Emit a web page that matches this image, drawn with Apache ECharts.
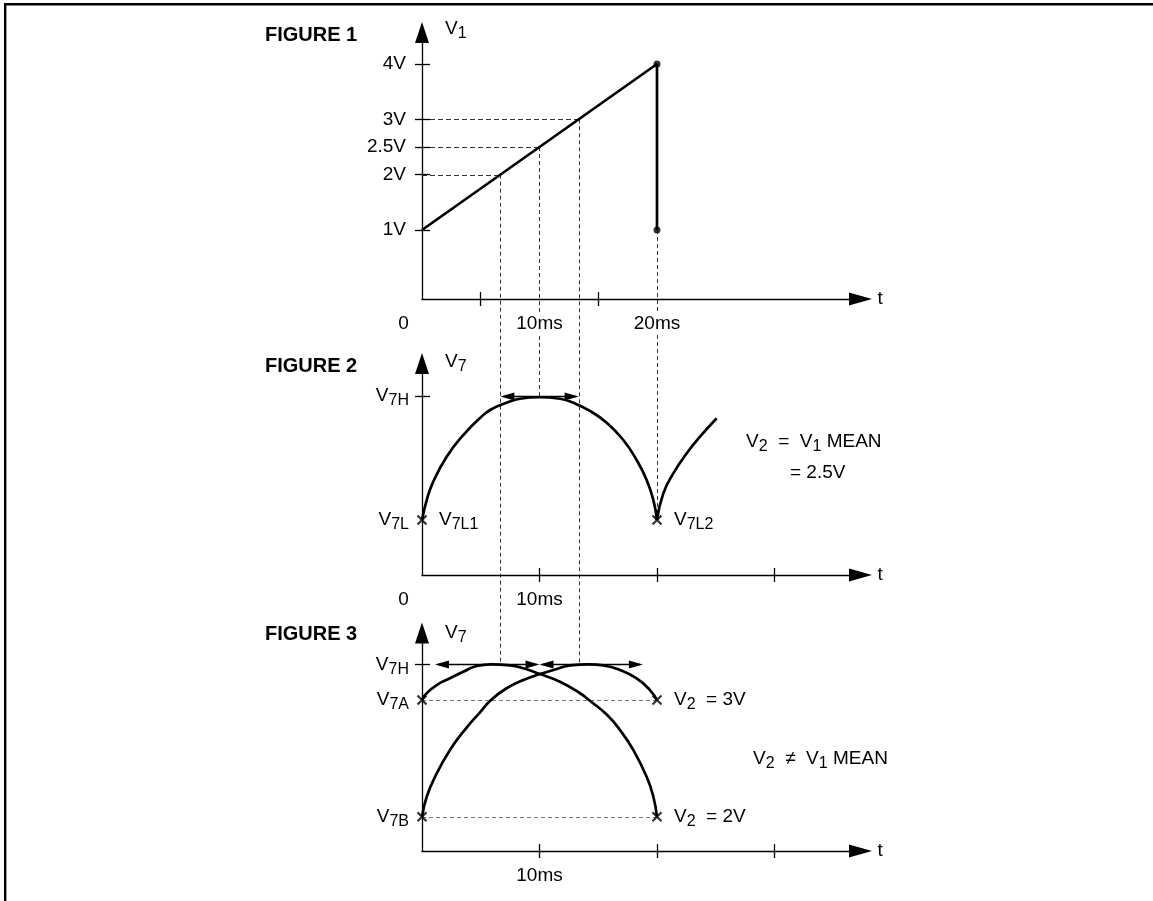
<!DOCTYPE html>
<html>
<head>
<meta charset="utf-8">
<title>V1 / V7 timing</title>
<script src="https://cdn.jsdelivr.net/npm/echarts@6/dist/echarts.min.js"></script>
<style>
  html, body { margin: 0; padding: 0; background: #fff; }
  #chart { width: 1153px; height: 901px; }
</style>
</head>
<body>
<div id="chart"></div>
<script>
// ---- time axis (ms), shared by the three figures ----
const tickTimesFig1 = [5, 15];
const labelTimesFig1 = [0, 10, 20];
const tickTimesFig23 = [10, 20, 30];
const labelTimesFig2 = [0, 10];
const labelTimesFig3 = [10];

// ---- FIGURE 1: V1 ramp (volts) ----
const v1Levels = [1, 2, 2.5, 3, 4];
const v1LevelLabels = ['1V', '2V', '2.5V', '3V', '4V'];
const v1Ramp = [[0, 1], [20, 4], [20, 1]];
const v1Dots = [[20, 4], [20, 1]];
const v1Traced = [2, 2.5, 3];             // levels followed by dashed guides
const v1TracedTimes = [6.67, 10, 13.33];  // ms at which the ramp reaches them

// ---- FIGURE 2: V7 when V2 = V1 mean (V7L = 0, V7H = 1) ----
const fig2Levels = [0, 1];
const fig2LevelSubs = ['7L', '7H'];
const fig2Wave = [[0, 0], [0.4, 0.161], [0.96, 0.309], [2.1, 0.51], [3.51, 0.685], [4.94, 0.823],
  [5.87, 0.891], [7.2, 0.945], [8.34, 0.978], [10, 0.99], [11.74, 0.978], [12.88, 0.945],
  [14.21, 0.884], [15.72, 0.785], [17.13, 0.645], [18.27, 0.484], [19.12, 0.323], [19.69, 0.161], [20, 0]];
const fig2WaveNext = [[20, 0], [20.54, 0.215], [21.39, 0.376], [22.53, 0.538], [23.66, 0.672], [25.08, 0.821]];
const fig2Lows = [[0, 0], [20, 0]];
const fig2LowSubs = ['7L1', '7L2'];
const fig2Span = [[6.67, 13.33, 1]];

// ---- FIGURE 3: V7 when V2 differs from V1 mean (V7B = 0, V7H = 1) ----
const fig3Levels = [0, 0.766, 1];
const fig3LevelSubs = ['7B', '7A', '7H'];
const fig3Wave3V = [[0, 0], [0.4, 0.131], [1.11, 0.262], [2.38, 0.438], [3.8, 0.585], [4.94, 0.685],
  [5.87, 0.766], [7.2, 0.843], [8.62, 0.897], [10.04, 0.936], [11.46, 0.969], [12.6, 0.993],
  [14.21, 1.0], [15.43, 0.993], [16.85, 0.963], [18.27, 0.908], [19.4, 0.831], [20, 0.766]];
const fig3Wave2V = [[0, 0.766], [0.4, 0.81], [1.25, 0.864], [2.38, 0.908], [3.51, 0.951], [4.66, 0.989],
  [5.87, 1.0], [7.49, 0.993], [8.62, 0.974], [10.04, 0.936], [11.74, 0.886], [13.45, 0.81],
  [14.21, 0.766], [15.72, 0.67], [16.85, 0.569], [17.98, 0.438], [19.12, 0.262], [19.69, 0.131], [20, 0]];
const fig3Ends = [[0, 0.766], [0, 0], [20, 0.766], [20, 0]];
const fig3EndTexts = ['', '', '3V', '2V'];
const fig3Spans = [[1.1, 10, 1], [10, 18.8, 1]];
const fig3Dashed = [[0, 20, 0.766], [0, 20, 0]];

// ---- guides dropped from FIGURE 1 into the lower figures ----
const dropTimes = [6.67, 10, 13.33, 20];
const dropFromV1 = [2, 2.5, 3, 1];
const dropToFigure = [3, 2, 3, 2];
const dropToLevel = [1, 1, 1, 0];

// ---- layout ----
const FONT = "'Liberation Sans', Arial, Helvetica, sans-serif";
const T_MAX = 37.32;
const grids = [
  { left: 422, top: 32.5, width: 438.5, height: 266.5 },
  { left: 422, top: 363.5, width: 438.5, height: 211.5 },
  { left: 422, top: 633, width: 438.5, height: 218 }
];
const yRanges = [[-0.247, 4.569], [-0.4435, 1.2621], [-0.2251, 1.2054]];

const rich = {
  m: { fontSize: 19, fontFamily: FONT, color: '#000' },
  s: { fontSize: 16, fontFamily: FONT, color: '#000', padding: [10, 0, 0, 0] },
  z: { fontSize: 19, fontFamily: FONT, color: '#000', padding: [0, 37, 0, 0] }
};
const sub = (main, s) => `{m|${main}}{s|${s}}`;
const AXIS_COLOR = '#000';
const CROSS = 'path://M0,0L10,10M10,0L0,10';

function timeAxes(gi, ticks, labels) {
  return [{
    type: 'value', gridIndex: gi, position: 'bottom', min: 0, max: T_MAX, z: 10,
    splitLine: { show: false },
    axisLine: { show: true, onZero: false, symbol: ['none', 'triangle'], symbolSize: [13, 23],
      lineStyle: { color: AXIS_COLOR, width: 1.3 } },
    axisTick: { show: true, customValues: ticks, length: 7, lineStyle: { color: AXIS_COLOR, width: 1.3 } },
    axisLabel: { show: true, customValues: labels, margin: 14, rich,
      backgroundColor: '#fff', padding: [1, 3],
      formatter: v => v === 0 ? '{z|0}' : `{m|${v}ms}` },
    name: 't', nameLocation: 'end', nameGap: 17,
    nameTextStyle: { fontSize: 19, fontFamily: FONT, color: '#000' }
  }, {
    type: 'value', gridIndex: gi, position: 'bottom', min: 0, max: T_MAX, z: 10,
    splitLine: { show: false }, axisLine: { show: false, onZero: false }, axisLabel: { show: false },
    axisTick: { show: true, inside: true, customValues: ticks, length: 7,
      lineStyle: { color: AXIS_COLOR, width: 1.3 } }
  }];
}

function levelAxes(gi, levels, tickLevels, fmt, margin, nameSub, nameGap) {
  return [{
    type: 'value', gridIndex: gi, position: 'left', min: yRanges[gi][0], max: yRanges[gi][1], z: 10,
    splitLine: { show: false },
    axisLine: { show: true, onZero: false, symbol: ['none', 'triangle'], symbolSize: [14, 21],
      lineStyle: { color: AXIS_COLOR, width: 1.3 } },
    axisTick: { show: true, customValues: tickLevels, length: 7, lineStyle: { color: AXIS_COLOR, width: 1.3 } },
    axisLabel: { show: true, customValues: levels, margin, rich, formatter: fmt },
    name: sub('V', nameSub), nameLocation: 'end', nameGap,
    nameTextStyle: { rich, align: 'left', verticalAlign: 'middle', padding: [0, 0, 0, 23] }
  }, {
    type: 'value', gridIndex: gi, position: 'left', min: yRanges[gi][0], max: yRanges[gi][1], z: 10,
    splitLine: { show: false }, axisLine: { show: false, onZero: false }, axisLabel: { show: false },
    axisTick: { show: true, inside: true, customValues: tickLevels, length: 8,
      lineStyle: { color: AXIS_COLOR, width: 1.3 } }
  }];
}

function hLine(dash, color) {
  return function (params, api) {
    const a = api.coord([api.value(0), api.value(2)]);
    const b = api.coord([api.value(1), api.value(2)]);
    const y = Math.round(a[1]) + 0.5;
    return { type: 'line', shape: { x1: a[0], y1: y, x2: b[0], y2: y },
      style: { stroke: color, lineWidth: 1, lineDash: dash } };
  };
}

function doubleArrow(params, api) {
  const a = api.coord([api.value(0), api.value(2)]);
  const b = api.coord([api.value(1), api.value(2)]);
  const y = Math.round(a[1]) + 0.5, L = 14, W = 4;
  return { type: 'group', children: [
    { type: 'line', shape: { x1: a[0] + 3, y1: y, x2: b[0] - 3, y2: y }, style: { stroke: '#000', lineWidth: 1.3 } },
    { type: 'polygon', shape: { points: [[a[0], y], [a[0] + L, y - W], [a[0] + L, y + W]] }, style: { fill: '#000' } },
    { type: 'polygon', shape: { points: [[b[0], y], [b[0] - L, y - W], [b[0] - L, y + W]] }, style: { fill: '#000' } }
  ] };
}

const waveStyle = { color: '#000', width: 2.7 };
const waveSmooth = 0.5;
const crossStyle = { color: 'none', borderColor: '#000', borderWidth: 2.2 };
const pointLabel = { show: true, position: 'right', distance: 10, rich, color: '#000', opacity: 1 };

const chart = echarts.init(document.getElementById('chart'));

chart.setOption({
  animation: false,
  backgroundColor: '#fff',
  title: [
    { text: 'FIGURE 1', left: 265, top: 25, padding: 0 },
    { text: 'FIGURE 2', left: 265, top: 356, padding: 0 },
    { text: 'FIGURE 3', left: 265, top: 624, padding: 0 }
  ].map(t => Object.assign(t, { textStyle: { fontSize: 20, fontWeight: 'bold', fontFamily: FONT, color: '#000', lineHeight: 20 } })),
  grid: grids,
  xAxis: [
    ...timeAxes(0, tickTimesFig1, labelTimesFig1),
    ...timeAxes(1, tickTimesFig23, labelTimesFig2),
    ...timeAxes(2, tickTimesFig23, labelTimesFig3)
  ],
  yAxis: [
    ...levelAxes(0, v1Levels, v1Levels, v => `{m|${v1LevelLabels[v1Levels.indexOf(v)]}}`, 16, '1', 3.5),
    ...levelAxes(1, fig2Levels, [1], v => sub('V', fig2LevelSubs[fig2Levels.indexOf(v)]), 13, '7', 2),
    ...levelAxes(2, fig3Levels, [1], v => sub('V', fig3LevelSubs[fig3Levels.indexOf(v)]), 13, '7', 0.5)
  ],
  series: [
    // FIGURE 1
    { type: 'custom', xAxisIndex: 0, yAxisIndex: 0, z: 3, clip: false,
      renderItem: hLine([5, 3], '#333'), encode: { x: [0, 1], y: 2 },
      data: v1Traced.map((v, i) => [0, v1TracedTimes[i], v]) },
    { type: 'line', xAxisIndex: 0, yAxisIndex: 0, z: 5, data: v1Ramp, symbol: 'none',
      lineStyle: { color: '#000', width: 2.7 } },
    { type: 'scatter', xAxisIndex: 0, yAxisIndex: 0, z: 6, data: v1Dots, symbolSize: 7,
      itemStyle: { color: '#000' } },
    // FIGURE 2
    { type: 'line', xAxisIndex: 2, yAxisIndex: 2, z: 5, data: fig2Wave, symbol: 'none', smooth: waveSmooth, lineStyle: waveStyle },
    { type: 'line', xAxisIndex: 2, yAxisIndex: 2, z: 5, data: fig2WaveNext, symbol: 'none', smooth: waveSmooth, lineStyle: waveStyle },
    { type: 'custom', xAxisIndex: 2, yAxisIndex: 2, z: 6, clip: false, renderItem: doubleArrow,
      encode: { x: [0, 1], y: 2 }, data: fig2Span },
    { type: 'scatter', xAxisIndex: 2, yAxisIndex: 2, z: 7, symbol: CROSS, symbolSize: 9, itemStyle: crossStyle,
      label: pointLabel,
      data: fig2Lows.map((p, i) => ({ value: p, label: { formatter: sub('V', fig2LowSubs[i]) } })) },
    // FIGURE 3
    { type: 'custom', xAxisIndex: 4, yAxisIndex: 4, z: 3, clip: false,
      renderItem: hLine([4, 3], '#777'), encode: { x: [0, 1], y: 2 }, data: fig3Dashed },
    { type: 'line', xAxisIndex: 4, yAxisIndex: 4, z: 5, data: fig3Wave3V, symbol: 'none', smooth: waveSmooth, lineStyle: waveStyle },
    { type: 'line', xAxisIndex: 4, yAxisIndex: 4, z: 5, data: fig3Wave2V, symbol: 'none', smooth: waveSmooth, lineStyle: waveStyle },
    { type: 'custom', xAxisIndex: 4, yAxisIndex: 4, z: 6, clip: false, renderItem: doubleArrow,
      encode: { x: [0, 1], y: 2 }, data: fig3Spans },
    { type: 'scatter', xAxisIndex: 4, yAxisIndex: 4, z: 7, symbol: CROSS, symbolSize: 9, itemStyle: crossStyle,
      label: pointLabel,
      data: fig3Ends.map((p, i) => ({ value: p, label: fig3EndTexts[i]
        ? { show: true, formatter: sub('V', '2') + `{m|  = ${fig3EndTexts[i]}}` }
        : { show: false } })) }
  ]
});

// dashed guides running from FIGURE 1 down into FIGURE 2 / FIGURE 3
const drops = dropTimes.map((t, i) => {
  const k = 2 * (dropToFigure[i] - 1);
  const top = chart.convertToPixel({ xAxisIndex: 0, yAxisIndex: 0 }, [t, dropFromV1[i]]);
  const bot = chart.convertToPixel({ xAxisIndex: k, yAxisIndex: k }, [t, dropToLevel[i]]);
  const x = Math.round(top[0]) + 0.5;
  return { type: 'line', z: 1, silent: true, shape: { x1: x, y1: top[1], x2: x, y2: bot[1] },
    style: { stroke: '#333', lineWidth: 1, lineDash: [4, 3] } };
});

const note = (x, y, text) => ({ type: 'text', x, y, z: 8, silent: true,
  style: { text, rich, align: 'left', verticalAlign: 'middle' } });

chart.setOption({
  graphic: [
    ...drops,
    // frame
    { type: 'line', z: 8, silent: true, shape: { x1: 4, y1: 4.3, x2: 1153, y2: 4.3 }, style: { stroke: '#000', lineWidth: 2.4 } },
    { type: 'line', z: 8, silent: true, shape: { x1: 5.2, y1: 3, x2: 5.2, y2: 901 }, style: { stroke: '#000', lineWidth: 2.4 } },
    // notes
    note(746, 442, sub('V', '2') + '{m|  =  V}{s|1}{m| MEAN}'),
    note(790, 473, '{m|= 2.5V}'),
    note(753, 759, sub('V', '2') + '{m|  \u2260  V}{s|1}{m| MEAN}')
  ]
});
</script>
</body>
</html>
